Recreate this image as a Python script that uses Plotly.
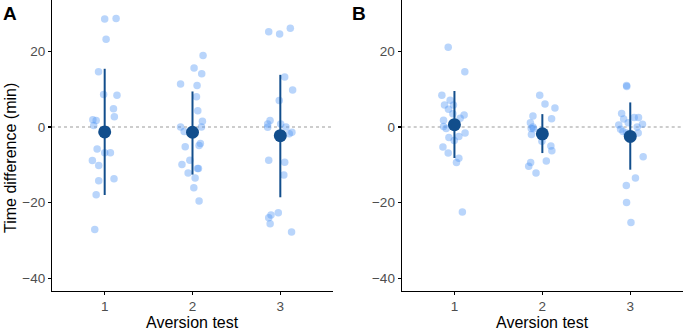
import plotly.graph_objects as go

# ---------------- data ----------------
tests = [1, 2, 3]
tick_labels = ["1", "2", "3"]

# Panel A raw points (time difference, min) and their horizontal jitter
a1_vals = [28.6, 28.7, 23.2, 14.6, 8.6, 8.4, 4.8, 2.7, 1.9, 1.7, 0.4, -5.8, -6.8, -6.8, -8.9, -10.2, -14.2, -13.7, -17.9, -27.1]
a1_jit = [0.0, 0.13, 0.016, -0.07, -0.012, 0.14, 0.10, 0.11, -0.135, -0.097, -0.125, -0.086, 0.0, 0.065, -0.14, -0.068, -0.068, 0.106, -0.097, -0.113]
a2_vals = [18.9, 15.6, 14.1, 11.4, 11.0, 8.0, 4.3, 1.5, 0.0, 0.0, -1.2, -5.2, -4.4, -4.9, -8.8, -9.9, -11.0, -11.0, -12.2, -13.5, -16.1, -19.6]
a2_jit = [0.12, 0.018, 0.105, -0.136, 0.052, 0.045, 0.06, 0.113, -0.136, 0.102, -0.095, -0.083, 0.09, 0.075, -0.03, -0.12, 0.057, 0.068, -0.05, 0.03, 0.015, 0.075]
a3_vals = [25.2, 24.6, 26.1, 13.2, 9.8, 7.0, 1.7, 0.8, -0.1, 0.8, 0.0, -1.8, -1.4, -8.8, -9.3, -12.7, -22.7, -23.3, -24.0, -25.6, -27.8]
a3_jit = [-0.132, -0.008, 0.114, 0.05, 0.14, -0.012, -0.117, -0.144, -0.144, 0.004, 0.064, 0.102, 0.132, -0.132, 0.05, 0.04, -0.023, -0.106, -0.132, -0.116, 0.128]

# Panel B raw points
b1_vals = [21.1, 14.6, 8.4, 7.1, 5.8, 5.8, 4.7, 3.5, 3.2, 2.3, 1.8, 0.1, -0.4, -1.6, -2.5, -2.8, -3.6, -5.3, -6.9, -8.3, -9.4, -22.5]
b1_jit = [-0.071, 0.118, -0.143, -0.049, -0.113, -0.011, -0.068, -0.018, 0.110, 0.065, -0.124, -0.124, -0.094, 0.121, 0.05, -0.063, -0.003, -0.131, -0.071, 0.05, 0.023, 0.09]
b2_vals = [8.4, 6.1, 5.0, 2.9, 2.2, 1.1, 0.0, -0.4, -0.5, -2.0, -3.8, -5.0, -6.3, -9.0, -9.4, -10.4, -12.2]
b2_jit = [-0.03, 0.03, 0.143, -0.107, 0.105, -0.136, -0.107, -0.126, -0.1, -0.124, -0.005, 0.097, 0.108, 0.045, -0.133, -0.155, -0.072]
b3_vals = [11.0, 10.7, 3.6, 2.1, 2.5, 2.5, 1.1, 0.7, 0.5, 0.0, -0.6, -1.2, -1.6, -1.6, -7.9, -13.5, -15.5, -20.0, -25.3]
b3_jit = [-0.042, -0.04, -0.098, -0.075, 0.045, 0.094, -0.023, 0.139, -0.131, 0.079, -0.11, -0.083, -0.042, 0.09, 0.147, 0.059, -0.045, -0.042, 0.008]

# Summary: mean and interval bounds
a_mean = [-1.3, -1.4, -2.3]
a_upper = [15.4, 9.4, 13.8]
a_lower = [-18.0, -12.6, -18.6]
b_mean = [0.6, -1.8, -2.5]
b_upper = [9.5, 3.4, 6.5]
b_lower = [-8.2, -6.9, -11.3]

panel_labels = ["A", "B"]
y_ticks = [-40, -20, 0, 20]

# ---------------- styling ----------------
W, H = 685, 332
FONT = "Liberation Sans, Arial, Helvetica, sans-serif"
PT_COLOR = "rgba(80,150,245,0.40)"
MEAN_COLOR = "#124e8c"
YR = [-43.4, 33.6]

fig = go.Figure()

panels = [
    ("x", "y", [(a1_vals, a1_jit), (a2_vals, a2_jit), (a3_vals, a3_jit)], a_mean, a_upper, a_lower),
    ("x2", "y2", [(b1_vals, b1_jit), (b2_vals, b2_jit), (b3_vals, b3_jit)], b_mean, b_upper, b_lower),
]

for xa, ya, groups, means, ups, lows in panels:
    # zero reference line
    fig.add_trace(go.Scatter(x=[0.4, 3.6], y=[0, 0], mode="lines", xaxis=xa, yaxis=ya,
                             line=dict(color="#bdbdbd", width=1.4, dash="dot"),
                             hoverinfo="skip", showlegend=False))
    for t, (vals, jit) in zip(tests, groups):
        fig.add_trace(go.Scatter(x=[t + j for j in jit], y=vals, mode="markers",
                                 xaxis=xa, yaxis=ya,
                                 marker=dict(size=7.5, color=PT_COLOR, line=dict(width=0)),
                                 showlegend=False))
    for t, m, u, l in zip(tests, means, ups, lows):
        fig.add_trace(go.Scatter(x=[t, t], y=[l, u], mode="lines", xaxis=xa, yaxis=ya,
                                 line=dict(color=MEAN_COLOR, width=2), showlegend=False))
    fig.add_trace(go.Scatter(x=tests, y=means, mode="markers", xaxis=xa, yaxis=ya,
                             marker=dict(size=13, color=MEAN_COLOR), showlegend=False))

y_dom = [(H - 291) / H, 1.0]
axis_common = dict(showgrid=False, zeroline=False, showline=True, linecolor="black", linewidth=1.1,
                   ticks="outside", ticklen=3, tickwidth=1.1, tickcolor="black", automargin=False,
                   tickfont=dict(family=FONT, size=13.5, color="#4d4d4d"))

fig.update_layout(
    width=W, height=H,
    margin=dict(l=0, r=0, t=0, b=0, pad=0, autoexpand=False),
    plot_bgcolor="white", paper_bgcolor="white",
    font=dict(family=FONT),
    xaxis=dict(domain=[52 / W, 333 / W], range=[0.4, 3.6], tickvals=tests, ticktext=tick_labels,
               anchor="y", **axis_common),
    yaxis=dict(domain=y_dom, range=YR, tickvals=y_ticks, anchor="x", **axis_common),
    xaxis2=dict(domain=[401.7 / W, 683 / W], range=[0.4, 3.6], tickvals=tests, ticktext=tick_labels,
                anchor="y2", **axis_common),
    yaxis2=dict(domain=y_dom, range=YR, tickvals=y_ticks, anchor="x2", **axis_common),
)

def px_x(p):
    return p / W

def px_y(p):
    return 1 - p / H

annotations = [
    dict(text="<b>%s</b>" % panel_labels[0], x=px_x(1), y=px_y(1), xanchor="left", yanchor="top",
         font=dict(size=19, color="black", family=FONT)),
    dict(text="<b>%s</b>" % panel_labels[1], x=px_x(350), y=px_y(1), xanchor="left", yanchor="top",
         font=dict(size=19, color="black", family=FONT)),
    dict(text="Time difference (min)", textangle=-90, x=px_x(11), y=px_y(158),
         xanchor="center", yanchor="middle", font=dict(size=16, color="black", family=FONT)),
    dict(text="Aversion test", x=px_x(192.7), y=px_y(322), xanchor="center", yanchor="middle",
         font=dict(size=16, color="black", family=FONT)),
    dict(text="Aversion test", x=px_x(542.7), y=px_y(322), xanchor="center", yanchor="middle",
         font=dict(size=16, color="black", family=FONT)),
]
for a in annotations:
    a.update(xref="paper", yref="paper", showarrow=False)
fig.update_layout(annotations=annotations)

fig.write_html("out.html", config={"displayModeBar": False, "staticPlot": True})

# remove the browser's default page margin so the figure sits at the window origin
with open("out.html", "r", encoding="utf-8") as f:
    html = f.read()
html = html.replace("<head>", "<head><style>html,body{margin:0;padding:0;overflow:hidden;}</style>", 1)
with open("out.html", "w", encoding="utf-8") as f:
    f.write(html)
